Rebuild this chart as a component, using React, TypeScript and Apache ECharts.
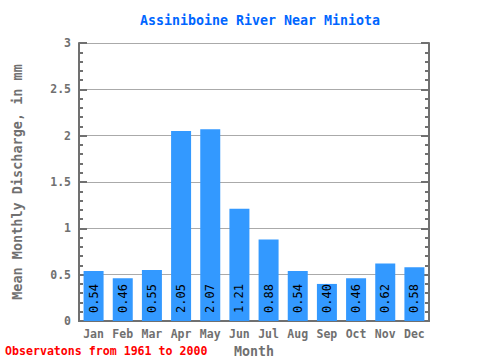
import React, { useEffect, useRef } from "react";
import * as echarts from "echarts";

const months = ["Jan", "Feb", "Mar", "Apr", "May", "Jun", "Jul", "Aug", "Sep", "Oct", "Nov", "Dec"];
const discharge = [0.54, 0.46, 0.55, 2.05, 2.07, 1.21, 0.88, 0.54, 0.4, 0.46, 0.62, 0.58];

const FONT = "'DejaVu Sans Mono', 'Liberation Mono', monospace";
const AXIS = "#707070";

export default function App() {
  const ref = useRef<HTMLDivElement>(null);
  useEffect(() => {
    const chart = echarts.init(ref.current!, null, { renderer: "svg" });
    chart.setOption({
      animation: false,
      backgroundColor: "#ffffff",
      title: {
        text: "Assiniboine River Near Miniota",
        left: 255,
        textAlign: "center",
        top: 9,
        textStyle: { color: "#0066ff", fontFamily: FONT, fontSize: 13.3, fontWeight: "bold" },
      },
      graphic: [
        {
          type: "text",
          left: 5,
          top: 345,
          style: {
            text: "Observatons from 1961 to 2000",
            fill: "#ff0000",
            font: `bold 11.6px ${FONT}`,
          },
        },
      ],
      grid: { left: 79, right: 51, top: 43, bottom: 39, containLabel: false, outerBoundsMode: "none" },
      xAxis: [
        {
          type: "category",
          data: months,
          position: "bottom",
          name: "Month",
          nameLocation: "middle",
          nameGap: 21,
          nameTextStyle: { color: AXIS, fontFamily: FONT, fontSize: 13.3, fontWeight: "bold" },
          axisLine: { lineStyle: { color: AXIS, width: 2 } },
          axisTick: { inside: true, length: 7, lineStyle: { color: AXIS, width: 2 } },
          axisLabel: { color: AXIS, fontFamily: FONT, fontSize: 11.5, fontWeight: "bold", margin: 7 },
        },
        {
          type: "category",
          data: months,
          position: "top",
          axisLine: { lineStyle: { color: AXIS, width: 2 } },
          axisTick: { inside: true, length: 7, lineStyle: { color: AXIS, width: 2 } },
          axisLabel: { show: false },
        },
      ],
      yAxis: [
        {
          type: "value",
          min: 0,
          max: 3,
          interval: 0.5,
          position: "left",
          name: "Mean Monthly Discharge, in mm",
          nameLocation: "middle",
          nameGap: 55,
          nameTextStyle: { color: AXIS, fontFamily: FONT, fontSize: 13.5, fontWeight: "bold" },
          axisLine: { show: true, lineStyle: { color: AXIS, width: 2 } },
          axisTick: { show: true, inside: true, length: 8, lineStyle: { color: AXIS, width: 2 } },
          minorTick: { show: true, splitNumber: 5, length: 4, lineStyle: { color: AXIS, width: 2 } },
          axisLabel: { color: AXIS, fontFamily: FONT, fontSize: 11.5, fontWeight: "bold", margin: 8 },
          splitLine: { show: true, lineStyle: { color: "#aaaaaa", width: 1 } },
        },
        {
          type: "value",
          min: 0,
          max: 3,
          interval: 0.5,
          position: "right",
          axisLine: { show: true, lineStyle: { color: AXIS, width: 2 } },
          axisTick: { show: true, inside: true, length: 8, lineStyle: { color: AXIS, width: 2 } },
          minorTick: { show: true, splitNumber: 5, length: 4, lineStyle: { color: AXIS, width: 2 } },
          axisLabel: { show: false },
          splitLine: { show: false },
        },
      ],
      series: [
        {
          type: "bar",
          data: discharge,
          xAxisIndex: 0,
          yAxisIndex: 0,
          barWidth: 20,
          itemStyle: { color: "#3399ff" },
          label: {
            show: true,
            position: "insideBottom",
            rotate: 90,
            align: "left",
            verticalAlign: "middle",
            distance: 8,
            formatter: (p: any) => p.value.toFixed(2),
            color: "#000000",
            fontFamily: FONT,
            fontSize: 12,
          },
        },
      ],
    });
    return () => chart.dispose();
  }, []);
  return <div ref={ref} style={{ width: 480, height: 360, position: "absolute", left: 0, top: 0 }} />;
}
